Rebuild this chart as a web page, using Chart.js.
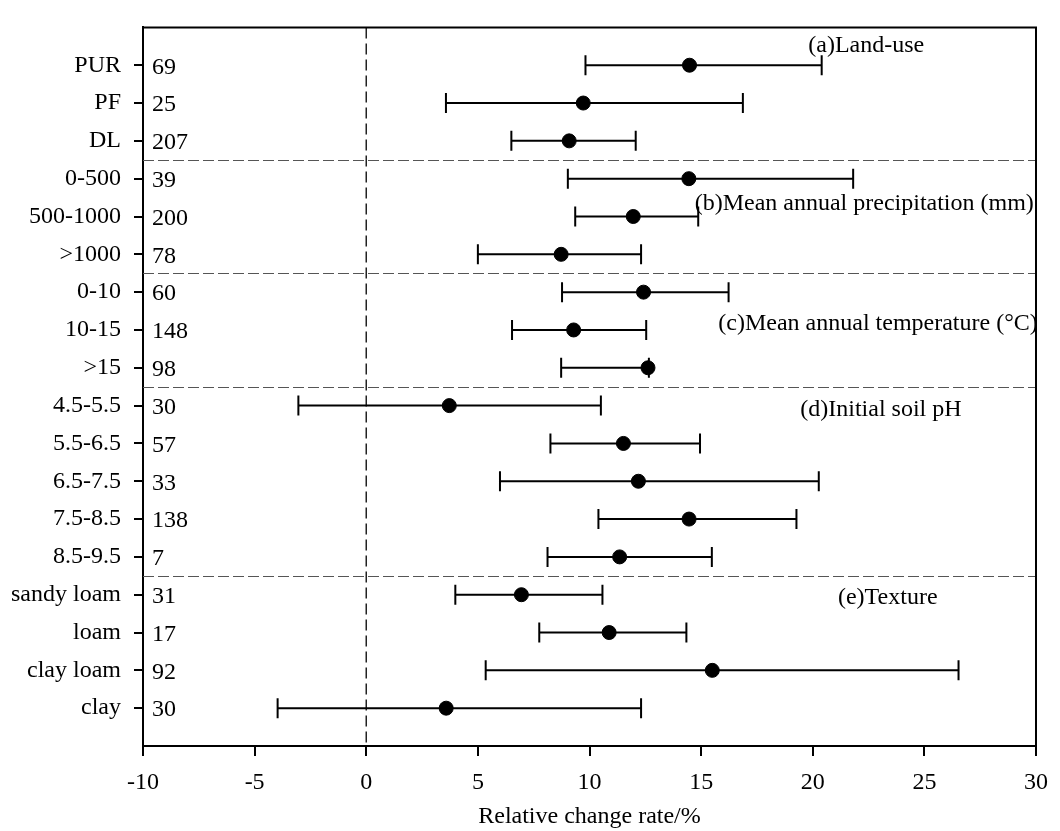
<!DOCTYPE html>
<html>
<head>
<meta charset="utf-8">
<script src="https://cdn.jsdelivr.net/npm/chart.js@4.4.1/dist/chart.umd.min.js"></script>
<style>
  html, body { margin: 0; padding: 0; background: #fff; }
  #wrap { width: 1060px; height: 831px; }
</style>
</head>
<body>
<div id="wrap"><canvas id="myChart"></canvas></div>
<script>
const categorias = ['PUR', 'PF', 'DL', '0-500', '500-1000', '>1000', '0-10', '10-15', '>15',
  '4.5-5.5', '5.5-6.5', '6.5-7.5', '7.5-8.5', '8.5-9.5', 'sandy loam', 'loam', 'clay loam', 'clay'];
const amostras = [69, 25, 207, 39, 200, 78, 60, 148, 98, 30, 57, 33, 138, 7, 31, 17, 92, 30];
const medias = [14.48, 9.72, 9.09, 14.45, 11.96, 8.73, 12.42, 9.29, 12.62, 3.72, 11.52, 12.19, 14.46, 11.35, 6.95, 10.88, 15.5, 3.58];
const inferior = [9.82, 3.57, 6.5, 9.03, 9.36, 5.0, 8.77, 6.53, 8.73, -3.04, 8.25, 5.99, 10.4, 8.12, 3.99, 7.75, 5.35, -3.97];
const superior = [20.4, 16.87, 12.07, 21.81, 14.87, 12.31, 16.23, 12.54, 12.66, 10.51, 14.95, 20.27, 19.27, 15.48, 10.58, 14.34, 26.53, 12.31];
const divisorias = [3.5, 6.5, 9.5, 14.5];
const grupos = ['(a)Land-use', '(b)Mean annual precipitation (mm)', '(c)Mean annual temperature (°C)',
  '(d)Initial soil pH', '(e)Texture'];
const xTicks = [-10, -5, 0, 5, 10, 15, 20, 25, 30];

const fonte = 'Liberation Serif, Times New Roman, serif';
const tamanho = 24;

// where each group title starts, in data units (x value, row)
const posGrupos = [
  { x: 19.8, y: 0.48 },
  { x: 14.71, y: 4.67 },
  { x: 15.77, y: 7.83 },
  { x: 19.44, y: 10.12 },
  { x: 21.13, y: 15.09 }
];

const pontos = medias.map((m, i) => ({ x: m, y: i + 1 }));

const errorBars = {
  id: 'errorBars',
  beforeDatasetsDraw(chart) {
    const { ctx, chartArea, scales: { x, y } } = chart;
    ctx.save();

    // group separators
    ctx.strokeStyle = '#555';
    ctx.lineWidth = 1;
    ctx.setLineDash([11, 4]);
    divisorias.forEach(d => {
      const py = Math.round(y.getPixelForValue(d)) + 0.5;
      ctx.beginPath();
      ctx.moveTo(chartArea.left, py);
      ctx.lineTo(chartArea.right, py);
      ctx.stroke();
    });

    // zero line
    ctx.strokeStyle = '#222';
    ctx.lineWidth = 1.5;
    ctx.setLineDash([11, 5]);
    const x0 = x.getPixelForValue(0);
    ctx.beginPath();
    ctx.moveTo(x0, chartArea.top);
    ctx.lineTo(x0, chartArea.bottom);
    ctx.stroke();
    ctx.setLineDash([]);

    // whiskers
    ctx.strokeStyle = '#000';
    ctx.lineWidth = 2;
    medias.forEach((m, i) => {
      const py = y.getPixelForValue(i + 1);
      const a = x.getPixelForValue(inferior[i]);
      const b = x.getPixelForValue(superior[i]);
      ctx.beginPath();
      ctx.moveTo(a, py); ctx.lineTo(b, py);
      ctx.moveTo(a, py - 10); ctx.lineTo(a, py + 10);
      ctx.moveTo(b, py - 10); ctx.lineTo(b, py + 10);
      ctx.stroke();
    });

    // sample sizes
    ctx.fillStyle = '#000';
    ctx.font = tamanho + 'px ' + fonte;
    ctx.textAlign = 'left';
    ctx.textBaseline = 'middle';
    amostras.forEach((n, i) => {
      ctx.fillText(String(n), chartArea.left + 9, y.getPixelForValue(i + 1) + 2);
    });

    // group titles
    grupos.forEach((g, i) => {
      ctx.fillText(g, x.getPixelForValue(posGrupos[i].x), y.getPixelForValue(posGrupos[i].y));
    });
    ctx.restore();
  },
  afterDraw(chart) {
    const { ctx, chartArea } = chart;
    ctx.save();
    ctx.strokeStyle = '#000';
    ctx.lineWidth = 2;
    ctx.beginPath();
    ctx.moveTo(chartArea.left, chartArea.top);
    ctx.lineTo(chartArea.right, chartArea.top);
    ctx.lineTo(chartArea.right, chartArea.bottom);
    ctx.stroke();
    ctx.restore();
  }
};

Chart.defaults.font.family = fonte;
Chart.defaults.font.size = tamanho;
Chart.defaults.color = '#000';

new Chart(document.getElementById('myChart'), {
  type: 'scatter',
  data: {
    datasets: [{
      label: 'Mean',
      data: pontos,
      backgroundColor: '#000',
      borderColor: '#000',
      pointRadius: 7,
      pointHoverRadius: 7
    }]
  },
  options: {
    responsive: true,
    maintainAspectRatio: false,
    animation: false,
    layout: { padding: { top: 13, right: 13, left: 0, bottom: 0 } },
    plugins: { legend: { display: false }, tooltip: { enabled: false } },
    scales: {
      x: {
        type: 'linear',
        min: -10,
        max: 30,
        afterBuildTicks: s => { s.ticks = xTicks.map(v => ({ value: v })); },
        afterFit: s => { s.height = 85; },
        grid: { drawOnChartArea: false, drawTicks: true, tickLength: 10, color: '#000', lineWidth: 2 },
        border: { display: true, color: '#000', width: 2 },
        ticks: { padding: 12, font: { size: tamanho } },
        title: { display: true, text: 'Relative change rate/%', font: { size: tamanho }, padding: { top: 0, bottom: 0 } }
      },
      y: {
        type: 'linear',
        reverse: true,
        min: 0,
        max: 19,
        afterBuildTicks: s => { s.ticks = categorias.map((c, i) => ({ value: i + 1 })); },
        afterFit: s => { s.width = 143; },
        grid: { drawOnChartArea: false, drawTicks: true, tickLength: 9, color: '#000', lineWidth: 2 },
        border: { display: true, color: '#000', width: 2 },
        ticks: { padding: 13, font: { size: tamanho }, callback: v => categorias[v - 1] }
      }
    }
  },
  plugins: [errorBars]
});
</script>
</body>
</html>
